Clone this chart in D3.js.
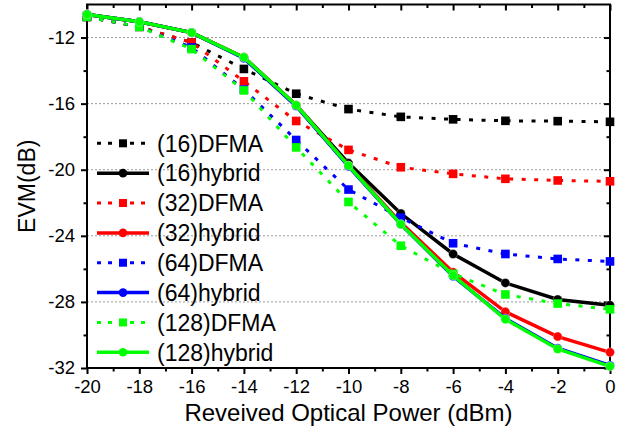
<!DOCTYPE html>
<html><head><meta charset="utf-8">
<script src="https://cdn.jsdelivr.net/npm/d3@7"></script>
<style>body{margin:0;background:#fff;} svg{display:block;font-family:"Liberation Sans",Arial,sans-serif;}</style>
</head><body><svg id="c" width="628" height="433"></svg>
<script>
const xVals = [-20,-18,-16,-14,-12,-10,-8,-6,-4,-2,0];
const dfma16  = [-10.75,-11.35,-12.3,-13.9,-15.4,-16.33,-16.8,-16.95,-17.04,-17.06,-17.1];
const hyb16   = [-10.6,-11.05,-11.7,-13.2,-16.1,-19.6,-22.65,-25.1,-26.85,-27.85,-28.2];
const dfma32  = [-10.75,-11.35,-12.3,-14.65,-17.05,-18.8,-19.85,-20.25,-20.55,-20.65,-20.7];
const hyb32   = [-10.6,-11.05,-11.7,-13.2,-16.1,-19.75,-23.2,-26.2,-28.6,-30.1,-31.05];
const dfma64  = [-10.75,-11.35,-12.6,-15.15,-18.2,-21.2,-22.9,-24.45,-25.1,-25.4,-25.55];
const hyb64   = [-10.6,-11.05,-11.7,-13.25,-16.15,-19.8,-23.3,-26.45,-29.0,-30.8,-31.85];
const dfma128 = [-10.75,-11.35,-12.7,-15.2,-18.65,-21.95,-24.6,-26.3,-27.55,-28.1,-28.45];
const hyb128  = [-10.6,-11.05,-11.7,-13.2,-16.1,-19.75,-23.3,-26.4,-29.05,-30.85,-31.9];
const xTicks = [-20,-18,-16,-14,-12,-10,-8,-6,-4,-2,0];
const yTicks = [-32,-28,-24,-20,-16,-12];
const seriesNames = ["(16)DFMA","(16)hybrid","(32)DFMA","(32)hybrid","(64)DFMA","(64)hybrid","(128)DFMA","(128)hybrid"];
const seriesData = [dfma16,hyb16,dfma32,hyb32,dfma64,hyb64,dfma128,hyb128];
const seriesColors = ["#000000","#000000","#ff0000","#ff0000","#0000ff","#0000ff","#00ff00","#00ff00"];

const svg = d3.select("#c");
const L=87, R=610, T=4.5, B=368;
const x = d3.scaleLinear().domain([-20,0]).range([L,R]);
const y = d3.scaleLinear().domain([-32,-10]).range([B,T]);

// grid
svg.append("g").selectAll("line").data(yTicks.filter(v=>v>-32)).join("line")
  .attr("x1",L).attr("x2",R).attr("y1",d=>y(d)).attr("y2",d=>y(d))
  .attr("stroke","#9a9a9a").attr("stroke-width",1).attr("stroke-dasharray","2,2");

// axes
const minorX = d3.range(-19,0,2);
const minorY = d3.range(-30,-10,4);
function axisG(axis, tx, ty){ const g=svg.append("g").attr("transform",`translate(${tx},${ty})`).call(axis); g.select(".domain").remove(); g.selectAll("line").attr("stroke","#000").attr("stroke-width",2); g.selectAll("text").attr("font-size",18.5).attr("fill","#000").attr("font-family","'Liberation Sans',Arial,sans-serif"); return g;}
axisG(d3.axisBottom(x).tickValues(xTicks).tickSize(6).tickPadding(6).tickFormat(d=>String(d)), 0, B);
axisG(d3.axisBottom(x).tickValues(minorX).tickSize(3.5).tickFormat(""), 0, B);
axisG(d3.axisLeft(y).tickValues(yTicks).tickSize(6).tickPadding(6).tickFormat(d=>String(d)), L, 0);
axisG(d3.axisLeft(y).tickValues(minorY).tickSize(3.5).tickFormat(""), L, 0);
axisG(d3.axisBottom(x).tickValues(xTicks).tickSize(6).tickFormat(""), 0, T);
axisG(d3.axisBottom(x).tickValues(minorX).tickSize(3.5).tickFormat(""), 0, T);
axisG(d3.axisLeft(y).tickValues(yTicks).tickSize(6).tickFormat(""), R, 0);
axisG(d3.axisLeft(y).tickValues(minorY).tickSize(3.5).tickFormat(""), R, 0);

svg.append("rect").attr("x",L).attr("y",T).attr("width",R-L).attr("height",B-T)
  .attr("fill","none").attr("stroke","#000").attr("stroke-width",2);

// series
const line = d3.line().x((d,i)=>x(xVals[i])).y(d=>y(d));
const plot = svg.append("g");
seriesData.forEach((data,k)=>{
  const isD = k%2===0, c=seriesColors[k];
  const g = plot.append("g");
  g.append("path").attr("d",line(data)).attr("fill","none").attr("stroke",c)
    .attr("stroke-width",isD?3:3.5).attr("stroke-dasharray",isD?"4,8.5":null);
  if(isD){
    g.selectAll("rect").data(data).join("rect")
      .attr("x",(d,i)=>x(xVals[i])-4.3).attr("y",d=>y(d)-4.3).attr("width",8.6).attr("height",8.6).attr("fill",c);
  } else {
    g.selectAll("circle").data(data).join("circle")
      .attr("cx",(d,i)=>x(xVals[i])).attr("cy",d=>y(d)).attr("r",4.5).attr("fill",c)
      .attr("stroke","#fff").attr("stroke-opacity",0.4).attr("stroke-width",0.8);
  }
});

// legend
const lg = svg.append("g");
seriesNames.forEach((n,k)=>{
  const cy = 143.3 + k*29.86, isD=k%2===0, c=seriesColors[k];
  lg.append("line").attr("x1",97).attr("x2",149).attr("y1",cy).attr("y2",cy).attr("stroke",c)
    .attr("stroke-width",isD?3:3.5).attr("stroke-dasharray",isD?"4,7":null);
  if(isD) lg.append("rect").attr("x",119).attr("y",cy-4).attr("width",8).attr("height",8).attr("fill",c);
  else lg.append("circle").attr("cx",123).attr("cy",cy).attr("r",4.3).attr("fill",c);
  lg.append("text").attr("x",157).attr("y",cy+8.3).attr("font-size",23).attr("fill","#000").text(n);
});

// titles
svg.append("text").attr("x",(L+R)/2).attr("y",421).attr("text-anchor","middle").attr("font-size",24).text("Reveived Optical Power (dBm)");
svg.append("text").attr("transform",`translate(35,${(T+B)/2}) rotate(-90)`).attr("text-anchor","middle").attr("font-size",23).text("EVM(dB)");
</script></body></html>
